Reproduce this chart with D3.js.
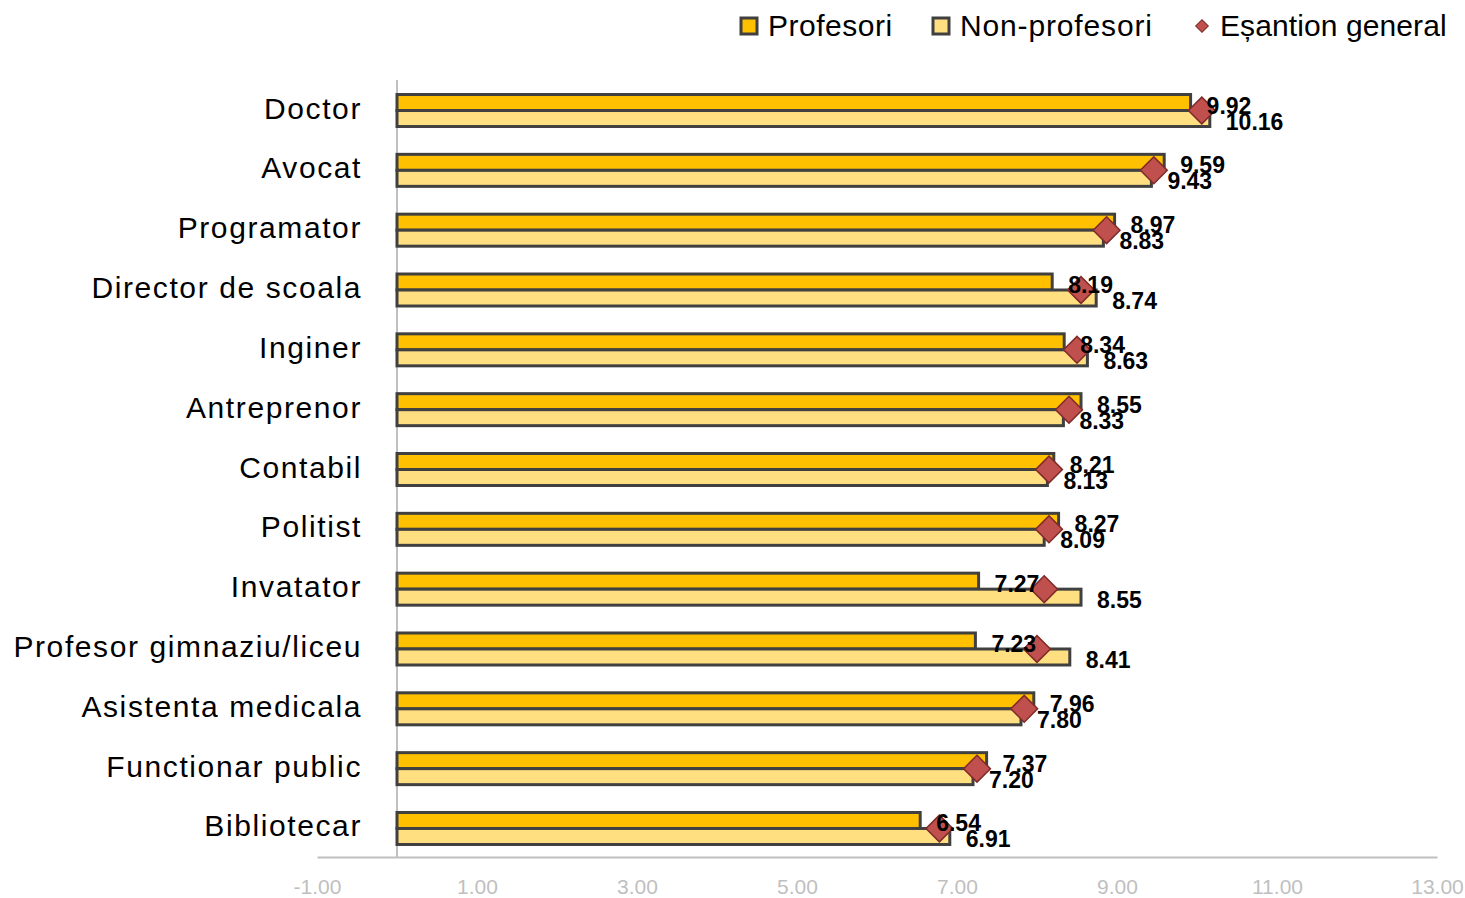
<!DOCTYPE html>
<html>
<head>
<meta charset="utf-8">
<script src="https://cdn.jsdelivr.net/npm/d3@7"></script>
<style>
  body { margin: 0; background: #fff; }
  svg { display: block; font-family: "Liberation Sans", Arial, sans-serif; }
</style>
</head>
<body>
<svg id="chart" width="1465" height="898"></svg>
<script>
// data
const categories = ["Doctor", "Avocat", "Programator", "Director de scoala", "Inginer",
  "Antreprenor", "Contabil", "Politist", "Invatator", "Profesor gimnaziu/liceu",
  "Asistenta medicala", "Functionar public", "Bibliotecar"]
const profesori = [9.92, 9.59, 8.97, 8.19, 8.34, 8.55, 8.21, 8.27, 7.27, 7.23, 7.96, 7.37, 6.54]
const nonProfesori = [10.16, 9.43, 8.83, 8.74, 8.63, 8.33, 8.13, 8.09, 8.55, 8.41, 7.80, 7.20, 6.91]
const esantion = [10.06, 9.46, 8.87, 8.55, 8.50, 8.40, 8.15, 8.15, 8.09, 8.00, 7.84, 7.25, 6.78]
const xTicks = [-1, 1, 3, 5, 7, 9, 11, 13]
const seriesNames = ["Profesori", "Non-profesori", "Eșantion general"]

const svg = d3.select("#chart")

const x = d3.scaleLinear().domain([-1, 13]).range([317, 1437])
const y = d3.scaleBand().domain(categories).range([80.6, 858.4])
const barH = 16

const rows = categories.map((c, i) => ({
  cat: c, prof: profesori[i], non: nonProfesori[i], gen: esantion[i]
}))

// axis at bottom (plain hyphen for the minus, like the original)
const xAxis = d3.axisBottom(x)
  .tickValues(xTicks)
  .tickSize(0)
  .tickPadding(22)
  .tickFormat(d => d.toFixed(2))

const gx = svg.append("g")
  .attr("transform", "translate(0,857)")
  .call(xAxis)
gx.select(".domain").attr("stroke", "#c0c0c0").attr("stroke-width", 2)
gx.selectAll("text")
  .attr("fill", "#bfbfbf")
  .attr("font-size", 21)
  .attr("font-family", "Liberation Sans, Arial, sans-serif")

// vertical zero line
svg.append("line")
  .attr("x1", x(0)).attr("x2", x(0))
  .attr("y1", 80).attr("y2", 857)
  .attr("stroke", "#c0c0c0")
  .attr("stroke-width", 2)

// category labels
svg.selectAll(".cat")
  .data(rows)
  .enter()
  .append("text")
  .attr("class", "cat")
  .attr("x", 362)
  .attr("y", d => y(d.cat) + y.bandwidth() / 2 + 8)
  .attr("text-anchor", "end")
  .attr("font-size", 30)
  .attr("letter-spacing", 1.6)
  .attr("fill", "#000")
  .text(d => d.cat)

// bars
const groups = svg.selectAll(".row")
  .data(rows)
  .enter()
  .append("g")
  .attr("class", "row")
  .attr("transform", d => `translate(0,${y(d.cat) + y.bandwidth() / 2})`)

groups.append("rect")
  .attr("x", x(0))
  .attr("y", -barH)
  .attr("width", d => x(d.prof) - x(0))
  .attr("height", barH)
  .attr("fill", "#ffc000")
  .attr("stroke", "#404040")
  .attr("stroke-width", 3)

groups.append("rect")
  .attr("x", x(0))
  .attr("y", 0)
  .attr("width", d => x(d.non) - x(0))
  .attr("height", barH)
  .attr("fill", "#ffdf80")
  .attr("stroke", "#404040")
  .attr("stroke-width", 3)

// general sample diamonds
const diamond = d3.symbol().type(d3.symbolSquare).size(360)
groups.append("path")
  .attr("d", diamond)
  .attr("transform", d => `translate(${x(d.gen)},0) rotate(45)`)
  .attr("fill", "#c0504d")
  .attr("stroke", "#7f2a28")
  .attr("stroke-width", 1.5)

// value labels, drawn on top of the diamonds
groups.append("text")
  .attr("x", d => x(d.prof) + 16)
  .attr("y", 3)
  .attr("font-size", 23)
  .attr("font-weight", "bold")
  .text(d => d.prof.toFixed(2))

groups.append("text")
  .attr("x", d => x(d.non) + 16)
  .attr("y", 19)
  .attr("font-size", 23)
  .attr("font-weight", "bold")
  .text(d => d.non.toFixed(2))

// legend
const legend = svg.append("g").attr("transform", "translate(0,26)")

legend.append("rect")
  .attr("x", 741).attr("y", -8).attr("width", 16).attr("height", 16)
  .attr("fill", "#ffc000").attr("stroke", "#404040").attr("stroke-width", 3)
legend.append("text")
  .attr("x", 768).attr("y", 10)
  .attr("font-size", 30)
  .attr("letter-spacing", 0.5)
  .text(seriesNames[0])

legend.append("rect")
  .attr("x", 933).attr("y", -8).attr("width", 16).attr("height", 16)
  .attr("fill", "#ffdf80").attr("stroke", "#404040").attr("stroke-width", 3)
legend.append("text")
  .attr("x", 960).attr("y", 10)
  .attr("font-size", 30)
  .attr("letter-spacing", 0.85)
  .text(seriesNames[1])

legend.append("path")
  .attr("d", d3.symbol().type(d3.symbolSquare).size(80))
  .attr("transform", "translate(1202,0) rotate(45)")
  .attr("fill", "#c0504d").attr("stroke", "#7f2a28").attr("stroke-width", 1)
legend.append("text")
  .attr("x", 1220).attr("y", 10)
  .attr("font-size", 30)
  .attr("letter-spacing", 0.1)
  .text(seriesNames[2])
</script>
</body>
</html>
